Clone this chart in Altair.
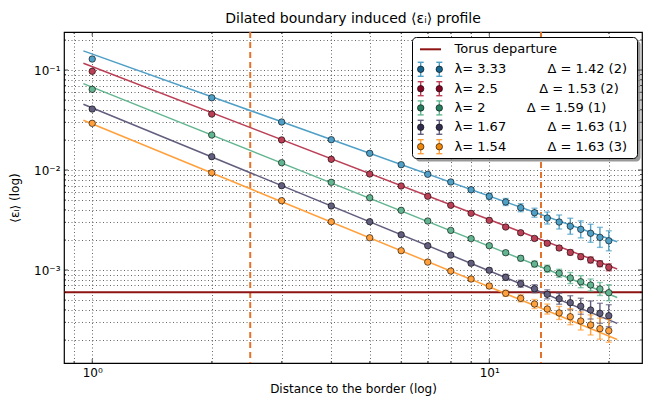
import altair as alt
import pandas as pd

# ---------------- data ----------------
dist = [1, 2, 3, 4, 5, 6, 7, 8, 9, 10, 11, 12, 13, 14, 15, 16, 17, 18, 19, 20]

lam_labels = ["3.33", "2.5", "2", "1.67", "1.54"]
delta_text = ["1.42 (2)", "1.53 (2)", "1.59 (1)", "1.63 (1)", "1.63 (3)"]
delta_vals = [1.42, 1.53, 1.59, 1.63, 1.63]
fit_amp = [0.1445, 0.108, 0.0673, 0.0418, 0.0289]
fit_range = [0.95, 21.0]

eps_333 = [0.1288, 0.0528, 0.0302, 0.0201, 0.01469, 0.01130, 0.00906, 0.00759, 0.00635, 0.00546,
           0.00479, 0.00420, 0.00374, 0.00331, 0.00302, 0.00274, 0.00255, 0.00233, 0.00212, 0.00196]
eps_25 = [0.0970, 0.0363, 0.0200, 0.0128, 0.00912, 0.00692, 0.00546, 0.00444, 0.00369, 0.00314,
          0.00269, 0.00236, 0.00207, 0.00185, 0.00166, 0.00150, 0.00136, 0.00126, 0.001156, 0.001064]
eps_2 = [0.0641, 0.0224, 0.01183, 0.00753, 0.00528, 0.00395, 0.00309, 0.00249, 0.00206, 0.00175,
         0.00149, 0.00131, 0.001148, 0.00103, 0.000927, 0.000832, 0.000764, 0.000708, 0.000646, 0.000593]
eps_167 = [0.0407, 0.0136, 0.00697, 0.00437, 0.00304, 0.00225, 0.00175, 0.00141, 0.001167, 0.000993,
           0.000845, 0.000729, 0.000650, 0.000571, 0.000516, 0.000471, 0.000434, 0.000398, 0.000369, 0.000349]
eps_154 = [0.0293, 0.00940, 0.00493, 0.00304, 0.00210, 0.00156, 0.00120, 0.000977, 0.000813, 0.000692,
           0.000585, 0.000521, 0.000457, 0.000407, 0.000372, 0.000341, 0.000309, 0.000282, 0.000259, 0.000247]

# error bar half widths (in decades)
err_333 = [0.005, 0.005, 0.005, 0.005, 0.005, 0.005, 0.01, 0.015, 0.02, 0.03,
           0.035, 0.04, 0.045, 0.06, 0.07, 0.08, 0.085, 0.09, 0.1, 0.1]
err_25 = [0.003, 0.003, 0.003, 0.003, 0.003, 0.003, 0.003, 0.003, 0.003, 0.01,
          0.012, 0.015, 0.017, 0.02, 0.022, 0.025, 0.027, 0.03, 0.03, 0.035]
err_2 = [0.005, 0.005, 0.005, 0.005, 0.005, 0.005, 0.005, 0.005, 0.01, 0.015,
         0.02, 0.025, 0.03, 0.035, 0.04, 0.055, 0.06, 0.06, 0.065, 0.08]
err_167 = [0.005, 0.005, 0.005, 0.005, 0.005, 0.005, 0.005, 0.01, 0.015, 0.02,
           0.03, 0.035, 0.04, 0.045, 0.055, 0.07, 0.08, 0.09, 0.1, 0.11]
err_154 = [0.005, 0.005, 0.005, 0.005, 0.005, 0.005, 0.005, 0.01, 0.02, 0.025,
           0.03, 0.035, 0.045, 0.05, 0.065, 0.08, 0.09, 0.1, 0.105, 0.115]

torus_departure = [6.0e-4]
vlines = [2.5, 13.5]

x_ticks_major = [1, 10]
x_ticks_minor = [0.9, 2, 3, 4, 5, 6, 7, 8, 9, 20]
y_ticks_major = [0.1, 0.01, 0.001]
y_ticks_minor = [0.0002, 0.0003, 0.0004, 0.0005, 0.0006, 0.0007, 0.0008, 0.0009,
                 0.002, 0.003, 0.004, 0.005, 0.006, 0.007, 0.008, 0.009,
                 0.02, 0.03, 0.04, 0.05, 0.06, 0.07, 0.08, 0.09, 0.2]

point_colors = ["#17668f", "#850525", "#287f60", "#332e4e", "#f0860a"]
line_colors = ["#4f9fc6", "#bb3f55", "#62b590", "#625e7e", "#ffa03c"]

# ---------------- layout ----------------
W, H = 578, 331
FONT = "DejaVu Sans"

series_vals = [eps_333, eps_25, eps_2, eps_167, eps_154]
series_err = [err_333, err_25, err_2, err_167, err_154]

rows = []
for lab, vals, errs in zip(lam_labels, series_vals, series_err):
    for d, v, e in zip(dist, vals, errs):
        rows.append({"series": lab, "x": d, "y": v, "lo": v / 10 ** e, "hi": v * 10 ** e})
pts = pd.DataFrame(rows)

fit_rows = []
for lab, a, dl in zip(lam_labels, fit_amp, delta_vals):
    for xx in fit_range:
        fit_rows.append({"series": lab, "x": xx, "y": a * xx ** (-dl)})
fits = pd.DataFrame(fit_rows)

xscale = alt.Scale(type="log", domain=[0.849, 24.25], nice=False)
yscale = alt.Scale(type="log", domain=[1.175e-4, 0.24], nice=False)

xlab = "datum.value == 1 ? '10⁰' : datum.value == 10 ? '10¹' : ''"
ylab = "datum.value == 0.1 ? '10⁻¹' : datum.value == 0.01 ? '10⁻²' : datum.value == 0.001 ? '10⁻³' : ''"

xaxis = alt.Axis(values=x_ticks_major + x_ticks_minor, labelExpr=xlab, grid=True, ticks=False,
                 domain=False, labelOverlap=False, labelFlush=False, labelPadding=4,
                 title="Distance to the border (log)", titlePadding=5)
yaxis = alt.Axis(values=y_ticks_major + y_ticks_minor, labelExpr=ylab, grid=True, ticks=False,
                 domain=False, labelOverlap=False, labelFlush=False, labelPadding=4,
                 title="⟨εᵢ⟩ (log)", titlePadding=12)

colscale = alt.Scale(domain=lam_labels, range=point_colors)
linescale = alt.Scale(domain=lam_labels, range=line_colors)

def X(f="x"):
    return alt.X(f"{f}:Q", scale=xscale, axis=xaxis)

def Y(f="y"):
    return alt.Y(f"{f}:Q", scale=yscale, axis=yaxis)

one = pd.DataFrame({"a": [0]})

grid_layer = alt.Chart(pts).mark_point(opacity=0).encode(x=X(), y=Y())

vline_layer = alt.Chart(pd.DataFrame({"x": vlines})).mark_rule(
    color="#e2732b", strokeWidth=2, strokeDash=[6, 4]).encode(x=X())

torus_layer = alt.Chart(pd.DataFrame({"y": torus_departure})).mark_rule(
    color="#8e1414", strokeWidth=2).encode(y=Y())

fit_layer = alt.Chart(fits).mark_line(strokeWidth=1.5).encode(
    x=X(), y=Y(), color=alt.Color("series:N", scale=linescale, legend=None), detail="series:N")

err_layer = alt.Chart(pts).mark_rule(strokeWidth=1.4).encode(
    x=X(), y=Y("lo"), y2="hi:Q", color=alt.Color("series:N", scale=linescale, legend=None))
cap_lo = alt.Chart(pts).mark_tick(orient="horizontal", size=6, thickness=1.4).encode(
    x=X(), y=Y("lo"), color=alt.Color("series:N", scale=linescale, legend=None))
cap_hi = alt.Chart(pts).mark_tick(orient="horizontal", size=6, thickness=1.4).encode(
    x=X(), y=Y("hi"), color=alt.Color("series:N", scale=linescale, legend=None))

pt_layer = alt.Chart(pts).mark_circle(size=42, opacity=1, fillOpacity=1, stroke="black",
                                      strokeWidth=0.6).encode(
    x=X(), y=Y(), color=alt.Color("series:N", scale=colscale, legend=None))

# inward ticks on all four sides
tick_layers = []
for vals, ln in ((x_ticks_major, 4), (x_ticks_minor, 2)):
    df = pd.DataFrame({"x": vals})
    tick_layers.append(alt.Chart(df).mark_tick(orient="vertical", size=ln, thickness=1, color="black")
                       .encode(x=X(), y=alt.value(H - ln / 2)))
    tick_layers.append(alt.Chart(df).mark_tick(orient="vertical", size=ln, thickness=1, color="black")
                       .encode(x=X(), y=alt.value(ln / 2)))
for vals, ln in ((y_ticks_major, 4), (y_ticks_minor, 2)):
    df = pd.DataFrame({"y": vals})
    tick_layers.append(alt.Chart(df).mark_tick(orient="horizontal", size=ln, thickness=1, color="black")
                       .encode(y=Y(), x=alt.value(ln / 2)))
    tick_layers.append(alt.Chart(df).mark_tick(orient="horizontal", size=ln, thickness=1, color="black")
                       .encode(y=Y(), x=alt.value(W - ln / 2)))

# ---------------- legend ----------------
LX0, LX1, LY0, LY1 = 348.5, 573.5, 5.5, 126.5
leg = []
leg.append(alt.Chart(one).mark_rect(fill="#555555", opacity=0.6, cornerRadius=4).encode(
    x=alt.value(LX0 + 3), x2=alt.value(LX1 + 3), y=alt.value(LY0 + 3), y2=alt.value(LY1 + 3)))
leg.append(alt.Chart(one).mark_rect(fill="white", stroke="black", strokeWidth=1, cornerRadius=4).encode(
    x=alt.value(LX0), x2=alt.value(LX1), y=alt.value(LY0), y2=alt.value(LY1)))
row_y = [17.3, 37.3, 56.7, 75.9, 95.3, 114.7]
leg.append(alt.Chart(one).mark_rule(color="#8e1414", strokeWidth=2).encode(
    x=alt.value(356), x2=alt.value(377), y=alt.value(row_y[0])))
leg.append(alt.Chart(one).mark_text(align="left", baseline="middle", font=FONT, fontSize=13,
                                    text="Torus departure").encode(x=alt.value(390.5), y=alt.value(row_y[0])))
NB = "\u00a0"
for i, (lab, dt) in enumerate(zip(lam_labels, delta_text)):
    yy = row_y[i + 1]
    for mx in (356.7, 375.3):
        leg.append(alt.Chart(one).mark_rule(color=line_colors[i], strokeWidth=1.4).encode(
            x=alt.value(mx), y=alt.value(yy - 7), y2=alt.value(yy + 7)))
        for cy in (yy - 7, yy + 7):
            leg.append(alt.Chart(one).mark_rule(color=line_colors[i], strokeWidth=1.4).encode(
                x=alt.value(mx - 3), x2=alt.value(mx + 3), y=alt.value(cy)))
        leg.append(alt.Chart(one).mark_circle(size=42, opacity=1, fillOpacity=1, color=point_colors[i],
                                              stroke="black", strokeWidth=0.6).encode(
            x=alt.value(mx), y=alt.value(yy)))
    label = f"λ= {lab}" + NB * 10 + f"Δ = {dt}"
    leg.append(alt.Chart(one).mark_text(align="left", baseline="middle", font=FONT, fontSize=13,
                                        text=label).encode(x=alt.value(390.5), y=alt.value(yy)))

chart = alt.layer(grid_layer, vline_layer, torus_layer, fit_layer, err_layer, cap_lo, cap_hi,
                  pt_layer, *tick_layers, *leg).properties(
    width=W, height=H,
    title=alt.Title("Dilated boundary induced ⟨εᵢ⟩ profile", font=FONT, fontSize=14,
                    fontWeight="normal", anchor="middle", offset=5, color="black"),
    autosize=alt.AutoSizeParams(type="none"),
    padding={"left": 56, "top": 24, "right": 14, "bottom": 39},
).configure_view(stroke="black", strokeWidth=1.2).configure_axis(
    labelFont=FONT, titleFont=FONT, labelFontSize=12, titleFontSize=12, titleFontWeight="normal",
    labelColor="black", titleColor="black", gridColor="#000000", gridOpacity=0.75,
    gridDash=[1, 2.5], gridWidth=0.8
)

chart.save("out.html", embed_options={"renderer": "svg", "actions": False})
